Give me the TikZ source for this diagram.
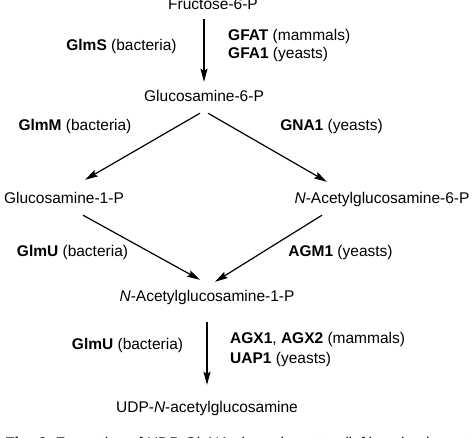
\documentclass[tikz,border=0pt]{standalone}
\usepackage{fontspec}
\setmainfont{Liberation Sans}
\usetikzlibrary{arrows.meta}
\begin{document}
\begin{tikzpicture}[x=1pt,y=-1pt,
  txt/.style={inner sep=0pt,text height=11pt,text depth=3pt,font=\fontsize{15.5}{19}\selectfont},
  enz/.style={inner sep=0pt,align=left,anchor=north west,font=\fontsize{15.5}{18}\selectfont},
  arr/.style={line width=1.2pt,-{Stealth[length=13pt,width=7pt,inset=2pt]}}]
\path[use as bounding box] (0,0) rectangle (474,438);
\clip (0,0) rectangle (474,438);
\fill[white] (0,0) rectangle (474,438);
% metabolites
\node[txt] (F) at (213,6) {Fructose-6-P};
\node[txt] (G6) at (204,98) {Glucosamine-6-P};
\node[txt] (G1) at (64,200) {Glucosamine-1-P};
\node[txt] (NA6) at (382,200) {\textit{N}-Acetylglucosamine-6-P};
\node[txt] (NA1) at (207,298) {\textit{N}-Acetylglucosamine-1-P};
\node[txt] (UDP) at (207,408) {UDP-\textit{N}-acetylglucosamine};
% enzymes
\node[txt] (e1) at (121.5,47) {\textbf{GlmS} (bacteria)};
\node[enz] (e2) at (228,29) {\textbf{GFAT} (mammals)\\\textbf{GFA1} (yeasts)};
\node[txt] (e3) at (75,127) {\textbf{GlmM} (bacteria)};
\node[txt] (e4) at (331.5,127) {\textbf{GNA1} (yeasts)};
\node[txt] (e5) at (72.5,253) {\textbf{GlmU} (bacteria)};
\node[txt] (e6) at (340.5,253) {\textbf{AGM1} (yeasts)};
\node[txt] (e7) at (127.5,345) {\textbf{GlmU} (bacteria)};
\node[enz,font=\fontsize{15.5}{20}\selectfont] (e8) at (230,332) {\textbf{AGX1}, \textbf{AGX2} (mammals)\\\textbf{UAP1} (yeasts)};
% caption (cut off at the bottom edge)
\node[txt,anchor=base west] (cap) at (5,448) {\textbf{Fig. 2}\; Formation of UDP-GlcNAc in prokaryotes (left) and eukaryotes (right)};
% arrows
\draw[arr] ([shift={(-9,6)}]F.south) -- ([shift={(0,-9)}]G6.north);
\draw[arr] ([shift={(-4,8)}]G6.south) -- ([shift={(21,-13)}]G1.north);
\draw[arr] ([shift={(4,8)}]G6.south) -- ([shift={(-55,-11)}]NA6.north);
\draw[arr] ([shift={(19,8)}]G1.south) -- ([shift={(-7,-11)}]NA1.north);
\draw[arr] ([shift={(-60,8)}]NA6.south) -- ([shift={(8,-9)}]NA1.north);
\draw[arr] ([shift={(0,17)}]NA1.south) -- ([shift={(0,-16)}]UDP.north);
\end{tikzpicture}
\end{document}
